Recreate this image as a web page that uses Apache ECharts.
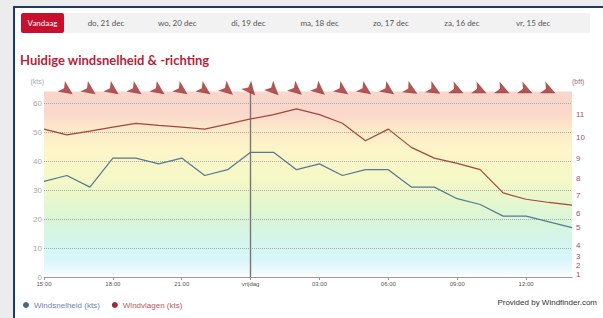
<!DOCTYPE html>
<html>
<head>
<meta charset="utf-8">
<script src="https://cdn.jsdelivr.net/npm/echarts@6/dist/echarts.min.js"></script>
<style>
html,body{margin:0;padding:0;background:#ececec;}
#frame{position:absolute;left:13px;top:6px;width:640px;height:360px;border:2px solid #1f3a6a;background:#fff;}
#chart{position:absolute;left:0;top:0;width:603px;height:318px;}
</style>
</head>
<body>
<div id="frame"></div>
<div id="chart"></div>
<script>
// ---- data ----
const categories = ['15:00','16:00','17:00','18:00','19:00','20:00','21:00','22:00','23:00','00:00','01:00','02:00','03:00','04:00','05:00','06:00','07:00','08:00','09:00','10:00','11:00','12:00','13:00','14:00'];
const xTickLabels = ['15:00','18:00','21:00','vrijdag','03:00','06:00','09:00','12:00'];
const windSpeed = [33,35,31,41,41,39,41,35,37,43,43,37,39,35,37,37,31,31,27,25,21,21,19,17];
const windGusts = [51,49,50.3,51.7,53,52.3,51.7,51,52.7,54.5,56,58,56,53,47,51,44.7,41,39.2,37,29,26.8,25.7,24.8];
const windDir = [null,305,305,305,305,305,305,305,310,320,315,310,310,305,305,305,300,300,295,295,295,295,295,null];
const ktsTicks = [0,10,20,30,40,50,60];
const bftKnots = [0,1,4,7,11,17,22,28,34,41,48,56];
const bftLabels = ['0','1','2','3','4','5','6','7','8','9','10','11'];
const dayTabs = ['do, 21 dec','wo, 20 dec','di, 19 dec','ma, 18 dec','zo, 17 dec','za, 16 dec','vr, 15 dec'];
const nowLabel = '00:00';

const chart = echarts.init(document.getElementById('chart'), null, {renderer:'svg'});

const gradient = {
  type:'linear', x:0, y:0, x2:0, y2:1,
  colorStops:[
    {offset:0, color:'#f9d5cc'},
    {offset:0.12, color:'#fad9cb'},
    {offset:0.20, color:'#fde8c8'},
    {offset:0.31, color:'#fdf5c8'},
    {offset:0.47, color:'#f5f8c6'},
    {offset:0.59, color:'#e6f7cc'},
    {offset:0.70, color:'#d8f5da'},
    {offset:0.81, color:'#d4f5ec'},
    {offset:0.906, color:'#d8f6fa'},
    {offset:0.97, color:'#effbfd'},
    {offset:1, color:'#ffffff'}
  ]
};

const arrowPath = 'path://M0,0 L7,14 L0,10.5 L-7,14 Z';

const graphics = [
  {type:'rect', shape:{x:22,y:13,width:568,height:20}, style:{fill:'#f2f2f2'}, z:0},
  {type:'rect', shape:{x:21,y:13,width:43,height:20,r:2}, style:{fill:'#c8102e'}, z:1},
  {type:'text', x:42.5, y:23, style:{text:'Vandaag', fill:'#fff', font:'8px Lato, sans-serif', align:'center', verticalAlign:'middle'}, z:2},
  {type:'text', x:20, y:60, style:{text:'Huidige windsnelheid & -richting', fill:'#b81f3c', font:'bold 13px Lato, sans-serif', align:'left', verticalAlign:'middle'}, z:2},
  {type:'text', x:597, y:302, style:{text:'Provided by Windfinder.com', fill:'#333', font:'8px "Liberation Sans", sans-serif', align:'right', verticalAlign:'middle'}, z:2}
];
dayTabs.forEach((t,i)=>{
  graphics.push({type:'text', x:106 + i*71.2, y:23, style:{text:t, fill:'#555', font:'8px Lato, sans-serif', align:'center', verticalAlign:'middle'}, z:2});
});

chart.setOption({
  animation:false,
  backgroundColor:'transparent',
  graphic: graphics,
  legend:{
    left:18, top:296, icon:'circle', itemWidth:6, itemHeight:6, itemGap:12,
    textStyle:{fontSize:8, fontFamily:'Liberation Sans'},
    data:[
      {name:'Windsnelheid (kts)', textStyle:{color:'#6f86aa'}},
      {name:'Windvlagen (kts)', textStyle:{color:'#b4595c'}}
    ]
  },
  grid:{left:44, right:31, top:91.4, bottom:41, containLabel:false},
  xAxis:{
    type:'category', data:categories, boundaryGap:false,
    axisLine:{lineStyle:{color:'#999', width:1}},
    axisTick:{show:true, interval:2, length:3, lineStyle:{color:'#999'}},
    axisLabel:{interval:2, fontSize:6, color:'#555', margin:4, fontFamily:'Liberation Sans',
      formatter:(v,i)=> xTickLabels[Math.round(i/3)]},
    splitLine:{show:false}
  },
  yAxis:[
    {type:'value', min:0, max:64, position:'left',
      name:'(kts)', nameLocation:'end', nameGap:6,
      nameTextStyle:{color:'#aaa', fontSize:7, align:'right', fontFamily:'Liberation Sans'},
      axisLine:{show:false}, axisTick:{show:false}, splitLine:{show:false},
      axisLabel:{customValues:ktsTicks, color:'#aaa', fontSize:8, margin:2, fontFamily:'Liberation Sans'}
    },
    {type:'value', min:0, max:64, position:'right',
      name:'(bft)', nameLocation:'end', nameGap:6,
      nameTextStyle:{color:'#a06a80', fontSize:7, align:'left', fontFamily:'Liberation Sans'},
      axisLine:{show:false}, axisTick:{show:false}, splitLine:{show:false},
      axisLabel:{customValues:bftKnots, color:'#a0506e', fontSize:8, margin:4, fontFamily:'Liberation Sans',
        formatter:(v)=> bftLabels[bftKnots.indexOf(v)]}
    }
  ],
  series:[
    {
      name:'Windsnelheid (kts)', type:'line', data:windSpeed, symbol:'none',
      lineStyle:{color:'#557994', width:1.2}, itemStyle:{color:'#4a6491'}, z:5,
      markArea:{silent:true, z:1, itemStyle:{color:gradient},
        data:[[{coord:[categories[0],0]},{coord:[categories[categories.length-1],64]}]]},
      markLine:{silent:true, symbol:'none', label:{show:false},
        lineStyle:{color:'#aaaaaa', type:'dotted', width:1},
        data: ktsTicks.filter(v=>v>0).map(v=>({yAxis:v}))}
    },
    {
      name:'Windvlagen (kts)', type:'line', data:windGusts, symbol:'none',
      lineStyle:{color:'#a4463e', width:1.2}, itemStyle:{color:'#9b2d30'}, z:5,
      markLine:{silent:true, symbol:'none', label:{show:false},
        lineStyle:{color:'#777', type:'solid', width:1.4},
        data:[{xAxis:nowLabel}]}
    },
    {
      name:'richting', type:'scatter', clip:false, z:6,
      symbol:arrowPath, symbolSize:[13,14], symbolKeepAspect:false,
      itemStyle:{color:'#9e2a2a'},
      data: windDir.map((d,i)=> d===null ? null : {value:[categories[i], 64.4], symbolRotate:-(d+180)}).filter(x=>x)
    }
  ]
});
</script>
</body>
</html>
